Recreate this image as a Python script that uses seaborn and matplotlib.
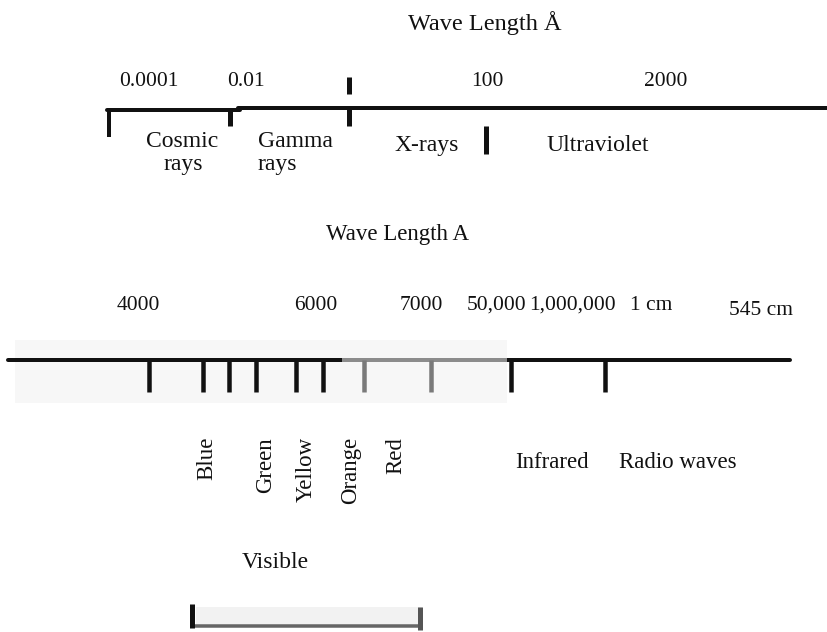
import matplotlib
matplotlib.use("Agg")
import matplotlib.pyplot as plt
import seaborn as sns
import pandas as pd

# ---------------- data ----------------
# Upper scale (wavelength in Angstrom)
top_title = "Wave Length Å"
top_values = ["0.0001", "0.01", "100", "2000"]
top_value_x = [149, 246, 487, 666]
top_boundaries_x = [109, 230, 349]
top_regions = ["Cosmic", "Gamma", "X-rays", "Ultraviolet"]
top_regions_line2 = ["rays", "rays", "", ""]
top_region_x = [182, 295, 427, 598]
top_region_x2 = [183, 277, 0, 0]

# Lower scale (visible / infrared / radio)
bottom_title = "Wave Length A"
bottom_values = ["4000", "6000", "7000", "50,000", "1,000,000", "1 cm", "545 cm"]
bottom_value_x = [138, 316, 421, 496, 572, 651, 761]
bottom_ticks_x = [149, 203, 229, 256, 296, 323, 364, 431, 511, 605]
bottom_ticks_gray = [False, False, False, False, False, False, True, True, False, False]
colour_bands = ["Blue", "Green", "Yellow", "Orange", "Red"]
colour_band_x = [207, 266, 306, 351, 396]
long_regions = ["Infrared", "Radio waves"]
long_region_x = [552, 678]
visible_label = "Visible"

# ---------------- style ----------------
sns.set_theme(style="white")
plt.rcParams["font.family"] = ["Liberation Serif", "DejaVu Serif"]

W, H = 827, 632
fig = plt.figure(figsize=(W / 100, H / 100), dpi=100)
ax = fig.add_axes([0, 0, 1, 1])
ax.set_xlim(0, W)
ax.set_ylim(H, 0)
ax.axis("off")

PX = 72 / 100  # points per pixel
ink = "#111111"

# ---------------- upper scale ----------------
ax.text(485, 30, top_title, ha="center", va="baseline", fontsize=17.5, color=ink)
for lab, x in zip(top_values, top_value_x):
    ax.text(x, 86, lab, ha="center", va="baseline", fontsize=15.5, color=ink)

base = pd.DataFrame({"x": [107, 240, 238, 827, 8, 790],
                     "y": [110, 110, 108, 108, 360, 360],
                     "line": ["top_a", "top_a", "top_b", "top_b", "bottom", "bottom"]})

# light shading behind the visible region of the lower scale
ax.add_patch(plt.Rectangle((15, 340), 492, 63, facecolor="#f7f7f7", edgecolor="none", zorder=0))

sns.lineplot(data=base, x="x", y="y", units="line", estimator=None,
             color=ink, linewidth=4 * PX, ax=ax, legend=False, zorder=3)

ax.vlines(top_boundaries_x[0], 109, 137, color=ink, linewidth=4 * PX)
ax.vlines(top_boundaries_x[1:], 108, 126, color=ink, linewidth=5 * PX)
ax.vlines(top_boundaries_x[2], 77, 94, color=ink, linewidth=5 * PX)
ax.vlines(486, 126, 154, color=ink, linewidth=5 * PX)

for i, (l1, l2) in enumerate(zip(top_regions, top_regions_line2)):
    yb = 147 if l2 else 151
    ax.text(top_region_x[i], yb, l1, ha="center", va="baseline", fontsize=17, color=ink)
    if l2:
        ax.text(top_region_x2[i], 170, l2, ha="center", va="baseline", fontsize=17, color=ink)

# ---------------- lower scale ----------------
ax.text(397, 240, bottom_title, ha="center", va="baseline", fontsize=16.5, color=ink)
for lab, x in zip(bottom_values, bottom_value_x):
    yb = 315 if lab == "545 cm" else 310
    ax.text(x, yb, lab, ha="center", va="baseline", fontsize=15.5, color=ink)

# gray segment of the axis
ax.hlines(360, 342, 507, color="#8c8c8c", linewidth=4 * PX, zorder=4)
for x, g in zip(bottom_ticks_x, bottom_ticks_gray):
    ax.vlines(x, 360, 392, color="#7a7a7a" if g else ink, linewidth=4.5 * PX, zorder=4)

for lab, x in zip(colour_bands, colour_band_x):
    ax.text(x, 437, lab, ha="center", va="top", rotation=90, fontsize=16.5, color=ink)

for lab, x in zip(long_regions, long_region_x):
    ax.text(x, 468, lab, ha="center", va="baseline", fontsize=16.5, color=ink)

ax.text(275, 568, visible_label, ha="center", va="baseline", fontsize=17, color=ink)

# bracket under the visible band
ax.add_patch(plt.Rectangle((196, 607), 226, 19, facecolor="#f2f2f2", edgecolor="none", zorder=1))
ax.hlines(626, 194, 422, color="#666666", linewidth=3.5 * PX, zorder=2)
ax.vlines(420, 607, 630, color="#555555", linewidth=5 * PX, zorder=2)
ax.vlines(192, 604, 628, color=ink, linewidth=5 * PX, zorder=3)

fig.savefig("out.png", dpi=100, facecolor="white")
